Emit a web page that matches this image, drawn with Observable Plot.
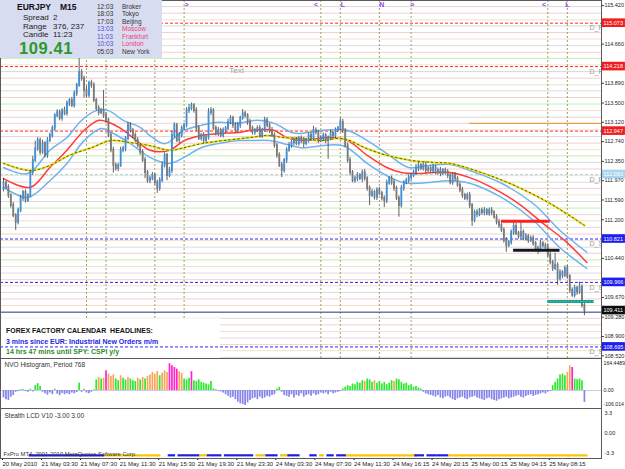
<!DOCTYPE html>
<html><head><meta charset="utf-8">
<script src="https://cdn.jsdelivr.net/npm/d3@7"></script>
<script src="https://cdn.jsdelivr.net/npm/@observablehq/plot@0.6"></script>
<style>
body{margin:0;background:#fff;}
#wrap{position:relative;width:625px;height:469px;overflow:hidden;font-family:"Liberation Sans",Arial,sans-serif;background:#fff;}
.t{position:absolute;white-space:pre;line-height:1;}
</style></head><body><div id="wrap"></div>
<script>
// ---------- DATA ----------
const symbolName = "EURJPY", timeframe = "M15";
const spread = "2", rangeText = "376, 237", candleLeft = "11:23", lastPrice = "109.41";
const sessionTimes = ["12:03","18:03","17:03","13:03","11:03","10:03","05:03"];
const sessionNames = ["Broker","Tokyo","Beijing","Moscow","Frankfurt","London","New York"];
const sessionOpen  = [0,0,0,1,1,1,0];
const calendarLines = ["FOREX FACTORY CALENDAR  HEADLINES:","3 mins since EUR: Industrial New Orders m/m","14 hrs 47 mins until SPY: CSPI y/y"];

// M15 candles (closes), open of first bar
const firstOpen = 111.80;
const closeA = [111.92,111.84,111.68,111.48,111.28,111.15,111.38,111.62,111.74,111.58,
111.68,112.13,112.37,112.60,112.76,112.53,112.70,112.47,112.76,112.86,
113.00,113.25,113.31,113.20,113.35,113.29,113.49,113.55,113.45,113.69,
113.85,114.10,113.98,113.75,113.65,113.89,113.85,113.55,113.39,113.31,
113.35,113.25,113.16,112.86,112.57,112.27,112.21,112.27,112.57,112.60,
112.80,113.06,112.96,112.86,112.76,112.66,112.53,112.37,112.13,111.97,
112.01];
const closeB = [112.07,111.93,111.82,111.97,112.27,112.47,112.07,112.17,112.86,113.06,
112.76,112.86,113.00,113.06,113.35,113.39,113.45,113.35,113.00,112.80,
112.86,112.76,112.82,113.31,113.35,113.00,112.90,112.96,112.86,112.96,
113.00,113.12,113.20,113.06,112.96,113.06,113.20,113.29,113.25,113.12,
113.00,112.92,112.96,113.00,112.86,112.96,113.16,113.06,112.96,112.86,
112.66,112.47,112.27,112.17,112.37,112.57,112.66,112.72,112.76,112.70,
112.80,112.76];
const closeC = [112.70,112.76,112.86,112.80,112.96,112.92,112.76,112.80,112.86,112.76,
112.80,112.90,112.86,112.96,113.00,113.12,112.96,112.66,112.37,112.13,
111.97,112.01,112.07,112.01,112.13,112.01,111.82,111.68,111.74,111.64,
111.78,111.72,111.62,111.58,111.92,112.01,111.93,111.82,111.62,111.48,
111.82,111.93,111.97,112.03,112.07,112.13,112.21,112.27,112.21,112.27,
112.17,112.21,112.17,112.23,112.13,112.17,112.11,112.17,112.13,112.07,
111.93];
const closeD = [112.07,112.01,111.88,111.78,111.68,111.62,111.68,111.48,111.19,111.34,
111.30,111.38,111.34,111.38,111.32,111.38,111.34,111.25,111.15,111.09,
110.99,110.79,110.69,110.75,110.95,111.07,110.93,110.87,110.95,110.83,
110.87,110.79,110.83,110.73,110.63,110.60,110.73,110.69,110.65,110.50,
110.36,110.24,110.30,110.04,110.16,110.10,110.24,110.08,109.81,109.71,
109.85,109.77,109.87,109.51,109.41];
// wick lengths in pips (0.01 JPY)
const upWickPips = [
10,4,5,3,6,4,5,6,4,5,3,4,8,15,6,5,7,4,6,5,
5,4,6,5,4,7,5,4,6,5,4,30,6,5,8,4,6,5,4,6,
5,40,6,4,5,6,5,4,6,5,4,6,5,4,5,6,4,5,6,4,
5,6,4,5,6,7,5,4,6,8,5,4,6,5,4,6,8,5,4,6,
5,4,6,5,8,6,4,5,6,4,5,4,6,5,4,5,6,4,8,5,
4,6,5,4,5,6,4,6,5,4,6,5,4,5,6,4,5,6,4,5,
6,4,5,6,4,5,6,8,5,4,6,5,4,5,6,4,5,4,8,6,
4,5,6,4,5,6,4,5,6,4,5,6,4,5,6,4,5,6,4,5,
6,4,5,6,4,5,6,4,5,8,6,4,5,6,4,5,6,4,5,6,
4,5,6,4,5,6,4,5,6,4,5,6,4,5,6,4,5,6,4,5,
6,4,5,6,4,5,6,4,5,12,6,4,20,5,6,4,5,6,4,5,
6,4,5,8,6,4,24,5,6,4,5,6,4,5,6,4,10,5,4];
const downWickPips = [
5,4,6,5,4,16,5,4,6,5,4,5,6,4,5,6,4,5,6,4,
5,6,4,5,6,4,5,6,4,5,6,4,5,15,4,5,6,4,5,6,
4,5,6,4,5,15,5,6,4,5,6,4,5,6,4,5,6,4,12,5,
6,4,5,10,6,4,5,10,4,6,5,4,6,5,4,5,6,4,5,6,
4,5,6,4,5,6,4,5,6,4,5,6,4,5,6,4,5,6,4,5,
6,4,5,6,4,5,6,4,5,6,4,5,6,4,14,5,6,4,5,6,
4,5,6,8,4,5,6,4,5,6,4,5,6,37,4,5,6,4,5,6,
4,5,6,4,5,6,4,8,5,6,20,4,5,6,4,5,14,6,4,5,
6,4,23,5,6,4,5,6,4,5,6,4,5,6,4,5,6,4,5,6,
4,5,6,4,5,6,4,5,6,4,5,6,12,5,6,4,5,6,4,5,
6,4,5,6,4,5,13,4,5,6,4,5,6,4,5,6,4,5,6,8,
4,5,6,4,5,6,4,13,5,6,4,5,6,4,5,6,4,5,10];

// moving averages / envelope (sampled at bar indices)
const yellowBars = [0,11,19,27,36,44,52,60,68,74,81,90,101,108,115,122,130,139,149,157,167,176,183,197,211,224,238];
const yellowVals = [112.31,112.17,112.27,112.47,112.62,112.76,112.72,112.66,112.57,112.62,112.70,112.76,112.82,112.86,112.82,112.80,112.76,112.80,112.60,112.47,112.37,112.33,112.31,112.11,111.84,111.52,111.09];
const redBars = [0,11,19,26,33,39,43,48,53,60,68,74,81,88,96,101,107,111,116,122,133,141,149,157,163,170,176,183,191,200,211,221,230,239];
const redVals = [112.01,111.84,112.23,112.57,112.96,113.16,113.12,113.00,112.82,112.57,112.57,112.76,112.86,112.90,112.92,112.96,112.98,112.96,112.82,112.76,112.82,112.76,112.47,112.23,112.13,112.11,112.13,112.13,112.03,111.84,111.52,111.13,110.79,110.36];
const upperBars = [0,10,19,26,32,38,43,49,56,60,66,74,81,88,96,104,111,118,122,130,141,149,157,166,174,183,191,204,217,228,239];
const upperVals = [112.23,112.11,112.57,112.82,113.16,113.35,113.35,113.16,113.02,112.86,112.70,112.96,113.06,113.12,113.10,113.16,113.10,112.92,112.90,112.96,112.96,112.76,112.51,112.23,112.27,112.29,112.17,111.92,111.52,110.99,110.56];
const lowerBars = [0,10,19,26,33,40,45,52,60,68,74,81,88,96,101,109,118,122,139,149,157,164,171,183,191,204,217,228,239];
const lowerVals = [111.84,111.64,111.97,112.31,112.76,113.00,112.90,112.70,112.43,112.31,112.43,112.62,112.70,112.76,112.76,112.76,112.66,112.62,112.66,112.31,112.07,111.93,111.92,111.97,111.92,111.64,111.19,110.65,110.24];

// horizontal levels
const gridLevels = [115.40,115.27,115.14,115.02,114.89,114.76,114.63,114.50,114.38,114.25,114.12,113.99,113.86,113.74,113.61,113.48,113.35,113.22,113.10,112.97,112.84,112.71,112.58,112.46,112.33,112.20,112.07,111.94,111.82,111.69,111.56,111.43,111.30,111.18,111.05,110.92,110.79,110.66,110.54,110.41,110.28,110.15,110.02,109.90,109.77,109.64,109.51,109.38,109.26,109.13,109.00,108.87,108.74,108.62,108.49];
const gridKinds = "abcabcab"+"G"+"cabcab"+"G"+"cabcabc"+"G"+"abcabca"+"G"+"bcabcab"+"G"+"cabcabc"+"G"+"abcabca";
const resistanceLevels = [115.073, 114.218, 112.947];
const supportLevels = [110.821, 109.966, 108.695];
const pivotLevel = 112.093;
const bidLevel = 109.38;
const orangeLevel = 113.10, orangeFromBar = 191;
const pivotNames = ["D_R2","D_R1","D_P","D_S1","D_S2","D_S3"];
const pivotPrices = [115.073,114.218,112.093,110.821,109.966,108.695];
const zoneFrom = [204, 209, 223], zoneTo = [224, 228, 242], zonePrice = [111.17, 110.60, 109.59], zoneKind = ["r","k","t"];
const sessionLineBars = [34,42,62,74,130,138,154,167,223,231];
const markerBars = [75,128,139,155,167.5,221.5,231];
const markerText = [">","<","L","N",">","<","L"];

// right price axis
const priceTicks = [115.420,114.660,113.890,113.500,113.120,112.740,112.350,111.970,111.590,111.200,110.440,109.670,109.280,108.900,108.520];
const priceTags = [115.073,114.218,112.947,112.093,110.821,109.966,109.411,108.695];
const priceTagKind = ["r","r","r","c","b","b","k","b"];

// NVO histogram
const nvoVals = [
-45,-55,-60,-40,-30, -10,-5,6, 5,-6,-10,8,-8, 30,42,25, -10,
-20,-28,-15,-25,8,-22,-30,-18,-25,-20, -25,-15,-20,-12, 45,
-10,8,-15,-20,-10,5, 65,80,70,75, 120, 100,
85,95,70,60,90,75,65,80,70,60, 55,75,65,80,70,85,
95,110,100,115,90,105,120,110, 163,150,140, 130,115,105, 70,65,75, 115,
60,55,65,50,45,40,35,55, 10,5,-5,-8, -15,-25,-35,-45,
-40,-55,-70,-80,-85,-90,-75,-60,-50,
-45,-55,-40,-50,-45,-35,-40,-30,-25, 10,20, -10,
-30,-35,-40,-25,-45,-30,-35,-20,-40,-30,-25,-35,-20,-30,-25,-15,
-20,-15,-25,-10,-20,-15,-10,-5,
10,20,30,25,40,35,50,45,60,55,70,65,50,60,45,55,40,50,35,45,60,55,70,65,50,40,45,30,35,20,25,15,10,
-10,-20,-25,-30,-35,-40,-30,-45,-50,-40,-35,-45,-55,-60,-50,-45,-40,-50,-55,-45,-40,-35,-45,-50,-55,-60,-50,-45,-55,-60,-65,-55,-50,-45,-40,-50,-45,-40,-35,-30,-40,-45,-35,-30,-25,-35,-30,-25,-20,-15,-20,-10,-5,
30,50,70,95,100,90,110,150,140,70,65,70,60,
-72];
const nvoKinds = "....."+"..g"+"g..g."+"ggg"+"."+"....g....."+"...."+"g"+".g...g"+"gogo"+"m"+"o"+
"ooggoggogg"+"gogogo"+"oooogooo"+"mmm"+"moo"+"ggg"+"m"+"gggggggg"+"gg.."+"...."+"........."+"........."+
"gg"+"."+"................"+"........"+"ggggggggg"+"o"+"ggg"+"o"+"ggggggg"+"o"+"ggggggggggg"+
".....................................................".slice(0,53)+"ggggggoomgggg"+".";
const nvoAxis = [164.4489, 0, -106.014];
const nvoAxisText = ["164.4489","0.00","-106.014"];

// Stealth LCD bottom state bar
const stealthFrom = [11,42,68,72,81,84,91,104,108,114,117,126,130,133,137,141,169,174,178,183];
const stealthTo   = [41,64,70,80,83,89,102,107,112,117,121,128,131,135,140,169,172,177,182,239];
const stealthKind = "bybbybbybybbybbybbby";
const stealthAxis = [3.3, 0, -3.3];
const stealthAxisText = ["3.3","0.00","-3.3"];

// time axis
const timeTickBars = [0,16,32,48,64,80,96,112,128,144,160,176,192,208,224];
const timeLabels = ["20 May 2010","21 May 03:30","21 May 07:30","21 May 11:30","21 May 15:30","21 May 19:30","21 May 23:30","24 May 03:30","24 May 07:30","24 May 11:30","24 May 16:15","24 May 20:15","25 May 00:15","25 May 04:15","25 May 08:15"];

// ---------- BUILD ----------
const closes = [...closeA, ...closeB, ...closeC, ...closeD];
const candles = closes.map((c, i) => {
  const o = i ? closes[i - 1] : firstOpen;
  const top = Math.max(o, c), bot = Math.min(o, c);
  return {i, o, c, h: top + upWickPips[i] / 100, l: bot - downWickPips[i] / 100, up: c > o};
});
const series = (bars, vals) => bars.map((b, k) => ({i: b, v: vals[k]}));
const gridColor = {a: "#dadada", b: "#f0d0d0", c: "#efe2cc", G: "#c2efb2"};
const gridData = gridLevels.map((p, k) => ({p, c: gridColor[gridKinds[k]]}));
const zoneColor = {r: "#ff2020", k: "#111820", t: "#1a9f9f"};
const zones = zonePrice.map((p, k) => ({p, from: zoneFrom[k], to: zoneTo[k], c: zoneColor[zoneKind[k]], k: zoneKind[k]}));
const tagColor = {r: "#f01e1e", c: "#a6d6ef", b: "#1e1ef0", k: "#0c0c0c"};
const tags = priceTags.map((v, k) => ({v, c: tagColor[priceTagKind[k]]}));
const pivots = pivotNames.map((n, k) => ({n, p: pivotPrices[k]}));
const markers = markerBars.map((b, k) => ({i: b, t: markerText[k]}));
const nvoColor = {g: "#2ee82e", o: "#f5a55a", m: "#ff22cc", p: "#8484ea"};
const nvoData = nvoVals.map((v, i) => ({i, v, c: v < 0 ? nvoColor.p : (nvoColor[nvoKinds[i]] || nvoColor.g)}));
const stColor = {b: "#1e1ee6", y: "#f7c600"};
const stealthSegs = stealthFrom.map((f, k) => ({f, t: stealthTo[k], c: stColor[stealthKind[k]]}));

const FONT = "'Liberation Sans', Arial, sans-serif";
const AX = 5.5; // right-axis font size
const xDomain = [-1.23, 245];
const RIGHT = 245, RIGHT_END = 254.8;
const base = {width: 625, marginLeft: 0, marginRight: 24, marginTop: 0, marginBottom: 0,
  x: {domain: xDomain, axis: null}, color: {type: "identity"},
  style: {fontFamily: FONT, background: "transparent", overflow: "visible"}};

const yMain = [108.467, 115.52];
const main = Plot.plot({...base, height: 358,
  y: {domain: yMain, axis: null},
  marks: [
    Plot.ruleY(gridData, {y: "p", stroke: "c", strokeWidth: 1}),
    Plot.ruleX(sessionLineBars, {x: d => d, stroke: "#a2a266", strokeDasharray: "2,2"}),
    Plot.rect([0], {x1: xDomain[0], x2: 88.9, y1: yMain[0], y2: 109.25, fill: "white"}),
    Plot.ruleY(resistanceLevels, {y: d => d, stroke: "#ff2a2a", strokeDasharray: "3,2"}),
    Plot.ruleY(supportLevels, {y: d => d, stroke: "#2a2aff", strokeDasharray: "3,2"}),
    Plot.ruleY([pivotLevel], {y: d => d, stroke: "#a6d6ef", strokeDasharray: "3,2"}),
    Plot.ruleY([bidLevel], {y: d => d, stroke: "#3c3c9c"}),
    Plot.ruleY([orangeLevel], {y: d => d, x1: orangeFromBar, x2: RIGHT, stroke: "#e8902a"}),
    Plot.line(series(upperBars, upperVals), {x: "i", y: "v", stroke: "#6cb4f0", curve: "catmull-rom"}),
    Plot.line(series(lowerBars, lowerVals), {x: "i", y: "v", stroke: "#6cb4f0", curve: "catmull-rom"}),
    Plot.line(series(redBars, redVals), {x: "i", y: "v", stroke: "#ff3c3c", curve: "catmull-rom"}),
    Plot.line(series(yellowBars, yellowVals), {x: "i", y: "v", stroke: "#e8df1c", strokeWidth: 2, curve: "catmull-rom"}),
    Plot.line(series(yellowBars, yellowVals), {x: "i", y: "v", stroke: "#55551a", strokeWidth: 1, strokeDasharray: "1.5,3", curve: "catmull-rom"}),
    Plot.ruleX(candles, {x: "i", y1: "l", y2: "h", stroke: "#3a3a3a", strokeWidth: 0.8}),
    Plot.ruleX(candles, {x: "i", y1: "o", y2: "c", stroke: d => d.up ? "#3f8fdc" : "#7a7a7a", strokeWidth: 1.8, strokeLinecap: "square"}),
    Plot.ruleY(zones, {y: "p", x1: "from", x2: "to", stroke: "c", strokeWidth: 3}),
    Plot.ruleY(zones.filter(z => z.k === "t"), {y: "p", x1: "from", x2: "to", stroke: "#5be05b", strokeWidth: 1, strokeDasharray: "1,2"}),
    Plot.text(["Text"], {x: 95.5, y: 114.14, fill: "#a0a0a0", fontSize: 8}),
    Plot.text(pivots, {x: RIGHT, y: "p", text: "n", dx: -12, dy: 5, textAnchor: "start", fill: "#9a9a9a", fontSize: 7, clip: true}),
    Plot.text(markers, {x: "i", text: "t", frameAnchor: "top", dy: 2, fill: "#a040e8", fontSize: 7, fontWeight: "bold"}),
    Plot.ruleY(priceTicks, {y: d => d, x1: RIGHT, x2: RIGHT + 1.2, stroke: "#333"}),
    Plot.text(priceTicks, {x: RIGHT, y: d => d, text: d => d.toFixed(3), dx: 3, textAnchor: "start", fontSize: AX, fill: "#222"}),
    Plot.rect(tags, {x1: RIGHT, x2: RIGHT_END, y1: d => d.v - 0.085, y2: d => d.v + 0.085, fill: "c"}),
    Plot.text(tags, {x: RIGHT, y: "v", text: d => d.v.toFixed(3), dx: 2, textAnchor: "start", fontSize: AX, fill: "white"}),
    Plot.frame({stroke: "#5a5a5a"})
  ]});

const nvo = Plot.plot({...base, height: 50,
  y: {domain: [-108.8, 194.7], axis: null},
  marks: [
    Plot.ruleY([0], {stroke: "#c9c9f0"}),
    Plot.ruleX(nvoData, {x: "i", y1: 0, y2: "v", stroke: "c", strokeWidth: 1.7}),
    Plot.text(["NVO Histogram, Period 768"], {frameAnchor: "top-left", dx: 4, dy: 4, fontSize: 6.5, fill: "#333"}),
    Plot.text(nvoAxis.slice(0, 2), {x: RIGHT, y: d => d, text: (d, k) => nvoAxisText[k], dx: 2, textAnchor: "start", fontSize: 5.2, fill: "#222"}),
    Plot.text(nvoAxis.slice(2), {x: RIGHT, y: d => d, text: () => nvoAxisText[2], dx: 2, dy: -4, textAnchor: "start", fontSize: 5.2, fill: "#222"}),
    Plot.frame({stroke: "#5a5a5a"})
  ]});

const stealth = Plot.plot({...base, height: 61, marginBottom: 11,
  y: {domain: [-4.125, 4.125], axis: null},
  marks: [
    Plot.ruleY(stealthSegs, {y: -3.6, x1: d => d.f - 0.5, x2: d => d.t + 0.5, stroke: "c", strokeWidth: 2.2}),
    Plot.text(["Stealth LCD V10 -3.00 3.00"], {frameAnchor: "top-left", dx: 4, dy: 5, fontSize: 6.5, fill: "#333"}),
    Plot.text(["FxPro MT4, 2001-2010 MetaQuotes Software Corp."], {frameAnchor: "bottom-left", dx: 3, dy: -3, fontSize: 5.8, fill: "#333"}),
    Plot.text(stealthAxis, {x: RIGHT, y: d => d, text: (d, k) => stealthAxisText[k], dx: 3, textAnchor: "start", fontSize: AX, fill: "#222"}),
    Plot.axisX(timeTickBars, {tickFormat: d => timeLabels[timeTickBars.indexOf(d)], tickSize: 2, tickPadding: 1, fontSize: 6, textAnchor: "start", dx: -1, label: null, fill: "#222"}),
    Plot.frame({stroke: "#5a5a5a"})
  ]});

const wrap = document.getElementById("wrap");
[[main, 0], [nvo, 358], [stealth, 408]].forEach(([svg, top]) => {
  svg.style.position = "absolute"; svg.style.left = "0px"; svg.style.top = top + "px";
  wrap.appendChild(svg);
});

function txt(parent, s, left, cy, size, weight, color) {
  const d = document.createElement("div");
  d.className = "t"; d.textContent = s;
  d.style.left = left + "px"; d.style.top = (cy - size * 0.5) + "px";
  d.style.fontSize = size + "px"; d.style.fontWeight = weight; d.style.color = color;
  parent.appendChild(d); return d;
}
// info panel
const box = document.createElement("div");
box.style.cssText = "position:absolute;left:0;top:0;width:162px;height:58px;background:#d8dcf0;z-index:2;";
wrap.appendChild(box);
txt(box, symbolName, 17, 7, 8.5, "bold", "#111");
txt(box, timeframe, 60, 7, 8.5, "bold", "#111");
txt(box, "Spread", 23, 18, 8, "normal", "#222"); txt(box, spread, 53, 18, 8, "normal", "#222");
txt(box, "Range", 23, 27, 8, "normal", "#222"); txt(box, rangeText, 53, 27, 8, "normal", "#222");
txt(box, "Candle", 23, 35, 8, "normal", "#222"); txt(box, candleLeft, 53, 35, 8, "normal", "#222");
const big = txt(box, lastPrice, 19, 48, 16.5, "bold", "#2a9a2a"); big.style.letterSpacing = "0.6px";
sessionTimes.forEach((t, k) => {
  const cy = 7 + k * 7.5;
  txt(box, t, 97, cy, 6.5, "normal", sessionOpen[k] ? "#5050d8" : "#333");
  txt(box, sessionNames[k], 122, cy, 6.5, "normal", sessionOpen[k] ? "#f0407a" : "#333");
});
// calendar headlines
const calColors = ["#111", "#2424e0", "#2e8a2e"];
const calY = [330, 341, 351];
calendarLines.forEach((s, k) => { const d = txt(wrap, s, 6, calY[k], 7, "bold", calColors[k]); d.style.zIndex = 2; });
</script></body></html>
